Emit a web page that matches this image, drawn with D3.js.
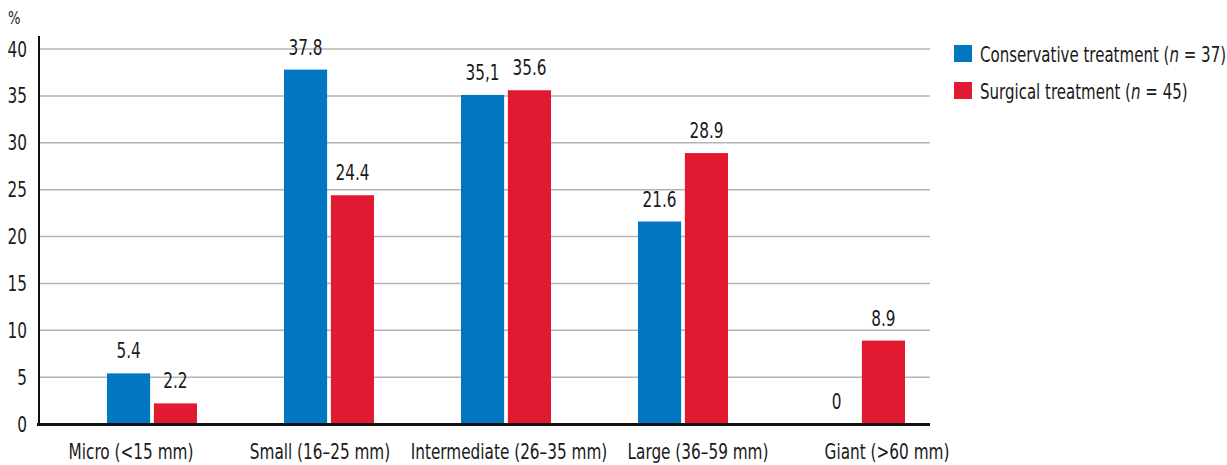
<!DOCTYPE html>
<html lang="en">
<head>
<meta charset="utf-8">
<script src="https://d3js.org/d3.v7.min.js"></script>
<style>
  body { margin: 0; background: #fff; }
  text { font-family: "DejaVu Sans Condensed", Roboto, sans-serif; fill: #1a1a1a; }
</style>
</head>
<body>
<div id="chart"></div>
<script>
// data
var categories = ["Micro (<15 mm)", "Small (16–25 mm)", "Intermediate (26–35 mm)", "Large (36–59 mm)", "Giant (>60 mm)"];
var conservative = [5.4, 37.8, 35.1, 21.6, 0];
var surgical = [2.2, 24.4, 35.6, 28.9, 8.9];
var conservativeLabels = ["5.4", "37.8", "35,1", "21.6", "0"];
var surgicalLabels = ["2.2", "24.4", "35.6", "28.9", "8.9"];
var seriesNames = ["conservative", "surgical"];
var yTicks = [0, 5, 10, 15, 20, 25, 30, 35, 40];

var colors = { conservative: "#0077c0", surgical: "#e11a32" };

var W = 1227, H = 465;
var svg = d3.select("#chart").append("svg")
  .attr("width", W).attr("height", H);

// condensed look: squeeze text horizontally
var SX = 0.81;
function place(sel, fx, fy, sx) {
  sel.attr("transform", function(d, i) {
    return "translate(" + fx(d, i) + "," + fy(d, i) + ") scale(" + (sx || SX) + ",1)";
  });
}

var axisLeft = 39, axisRight = 930;
var y = d3.scaleLinear().domain([0, 40]).range([424, 49]);

var x = d3.scaleBand().domain(categories).range([63.5, 948.5]).paddingInner(0).paddingOuter(0);
var xs = d3.scaleBand().domain(seriesNames).range([x.bandwidth() / 2 - 45, x.bandwidth() / 2 + 45]).paddingInner(0.08);
// category labels sit on their own evenly spaced positions
var xl = d3.scalePoint().domain(categories).range([131, 887]);

// gridlines
svg.append("g").selectAll("line")
  .data(yTicks.filter(function(d) { return d > 0; }))
  .enter().append("line")
    .attr("x1", axisLeft).attr("x2", axisRight)
    .attr("y1", function(d) { return y(d); })
    .attr("y2", function(d) { return y(d); })
    .attr("stroke", "#b4b4b4").attr("stroke-width", 1.5);

// y tick labels
svg.append("g").selectAll("text")
  .data(yTicks).enter().append("text")
    .attr("text-anchor", "end")
    .style("font-size", "21px")
    .text(function(d) { return d; })
    .call(place, function() { return 27; }, function(d) { return y(d) + 7.5; });

svg.append("text").style("font-size", "18px").text("%")
  .attr("transform", "translate(8,24) scale(" + SX + ",1)");

// rows built from arrays
var rows = categories.map(function(c, i) {
  return [
    { cat: c, key: "conservative", value: conservative[i], label: conservativeLabels[i] },
    { cat: c, key: "surgical", value: surgical[i], label: surgicalLabels[i] }
  ];
});

var groups = svg.append("g").selectAll("g")
  .data(rows).enter().append("g")
    .attr("transform", function(d) { return "translate(" + x(d[0].cat) + ",0)"; });

groups.selectAll("rect")
  .data(function(d) { return d; }).enter().append("rect")
    .attr("x", function(d) { return xs(d.key); })
    .attr("width", xs.bandwidth())
    .attr("y", function(d) { return y(d.value); })
    .attr("height", function(d) { return y(0) - y(d.value); })
    .attr("fill", function(d) { return colors[d.key]; });

groups.selectAll("text")
  .data(function(d) { return d; }).enter().append("text")
    .attr("text-anchor", "middle")
    .style("font-size", "21px")
    .text(function(d) { return d.label; })
    .call(place, function(d) { return xs(d.key) + xs.bandwidth() / 2; },
                 function(d) { return y(d.value) - 15; });

// axes lines
svg.append("line").attr("x1", axisLeft).attr("x2", axisLeft).attr("y1", 36).attr("y2", 425)
  .attr("stroke", "#111").attr("stroke-width", 2);
svg.append("line").attr("x1", 37).attr("x2", axisRight).attr("y1", 424.5).attr("y2", 424.5)
  .attr("stroke", "#111").attr("stroke-width", 3);

// category labels
svg.append("g").selectAll("text")
  .data(categories).enter().append("text")
    .attr("text-anchor", "middle")
    .style("font-size", "21px")
    .text(function(d) { return d; })
    .call(place, function(d) { return xl(d); }, function() { return 459; });

// legend
var legend = [
  { key: "conservative", name: "Conservative treatment (", n: "37" },
  { key: "surgical", name: "Surgical treatment (", n: "45" }
];
var lg = svg.append("g").selectAll("g")
  .data(legend).enter().append("g")
    .attr("transform", function(d, i) { return "translate(954," + (45 + i * 37) + ")"; });
lg.append("rect").attr("width", 18).attr("height", 17)
  .attr("fill", function(d) { return colors[d.key]; });
var lt = lg.append("text").style("font-size", "21px")
  .attr("transform", "translate(26,17) scale(0.795,1)");
lt.append("tspan").text(function(d) { return d.name; });
lt.append("tspan").style("font-style", "italic").text("n");
lt.append("tspan").text(function(d) { return " = " + d.n + ")"; });
</script>
</body>
</html>
